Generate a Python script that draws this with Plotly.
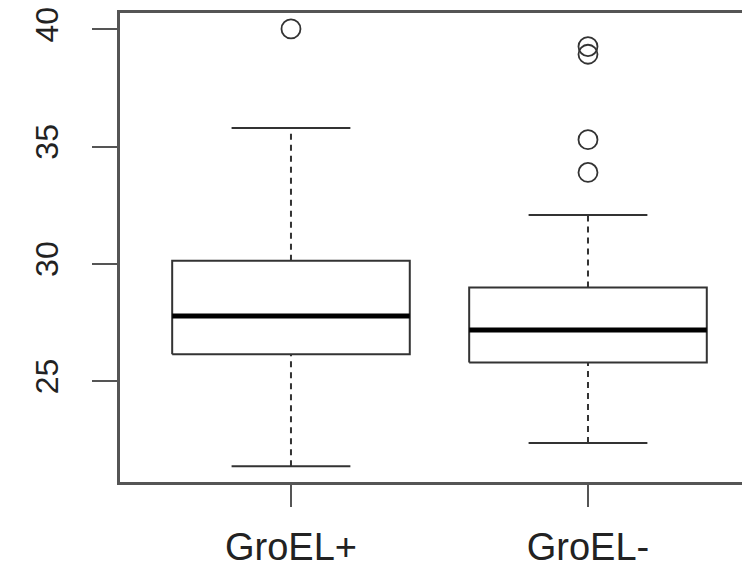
import plotly.graph_objects as go

# ---- data ----
categories = ["GroEL+", "GroEL-"]
positions = [1, 2]
q1 = [26.15, 25.80]
median = [27.78, 27.18]
q3 = [30.14, 28.99]
lower_whisker = [21.37, 22.36]
upper_whisker = [35.80, 32.09]
outlier_groups = [1, 2, 2, 2, 2]
outlier_values = [40.02, 39.27, 38.94, 35.30, 33.90]
y_ticks = [25, 30, 35, 40]

BOX_HALF = 0.4
CAP_HALF = 0.2
LINE_COL = "#333333"
FRAME_COL = "#555555"

fig = go.Figure()

for x, a, m, b, lo, hi in zip(positions, q1, median, q3, lower_whisker, upper_whisker):
    # dashed whiskers
    fig.add_trace(go.Scatter(x=[x, x, None, x, x], y=[lo, a, None, b, hi], mode="lines",
                             line=dict(color=LINE_COL, width=2, dash="6px,5px"),
                             hoverinfo="skip", showlegend=False))
    # caps
    fig.add_trace(go.Scatter(x=[x - CAP_HALF, x + CAP_HALF, None, x - CAP_HALF, x + CAP_HALF],
                             y=[lo, lo, None, hi, hi], mode="lines",
                             line=dict(color=LINE_COL, width=2),
                             hoverinfo="skip", showlegend=False))
    # box
    fig.add_trace(go.Scatter(x=[x - BOX_HALF, x + BOX_HALF, x + BOX_HALF, x - BOX_HALF, x - BOX_HALF],
                             y=[a, a, b, b, a], mode="lines",
                             line=dict(color=LINE_COL, width=2),
                             hoverinfo="skip", showlegend=False))
    # median
    fig.add_trace(go.Scatter(x=[x - BOX_HALF, x + BOX_HALF], y=[m, m], mode="lines",
                             line=dict(color="black", width=5),
                             hoverinfo="skip", showlegend=False))

fig.add_trace(go.Scatter(x=outlier_groups, y=outlier_values, mode="markers",
                         marker=dict(symbol="circle-open", size=19, color=LINE_COL,
                                     line=dict(width=1.8, color=LINE_COL)),
                         hoverinfo="skip", showlegend=False))

fig.update_layout(
    width=750, height=570,
    margin=dict(l=112, r=8, t=5, b=96),
    plot_bgcolor="white", paper_bgcolor="white",
    font=dict(family="Liberation Sans, Arial, sans-serif", color="#222222"),
)
fig.update_xaxes(range=[0.4243, 2.5455], showgrid=False, zeroline=False, automargin=False,
                 showline=True, mirror=True, linecolor=FRAME_COL, linewidth=3,
                 tickmode="array", tickvals=positions, ticktext=categories,
                 ticks="outside", ticklen=22, tickwidth=2, tickcolor=FRAME_COL,
                 tickfont=dict(size=38), ticklabelstandoff=7, ticklabeloverflow="allow")
fig.update_yaxes(range=[20.70, 40.70], showgrid=False, zeroline=False, automargin=False,
                 showline=True, mirror=False, linecolor=FRAME_COL, linewidth=3,
                 tickmode="array", tickvals=y_ticks,
                 ticks="outside", ticklen=25, tickwidth=2, tickcolor=FRAME_COL,
                 tickangle=-90, tickfont=dict(size=32), ticklabelstandoff=21,
                 ticklabeloverflow="allow")

fig.write_html("out.html")
